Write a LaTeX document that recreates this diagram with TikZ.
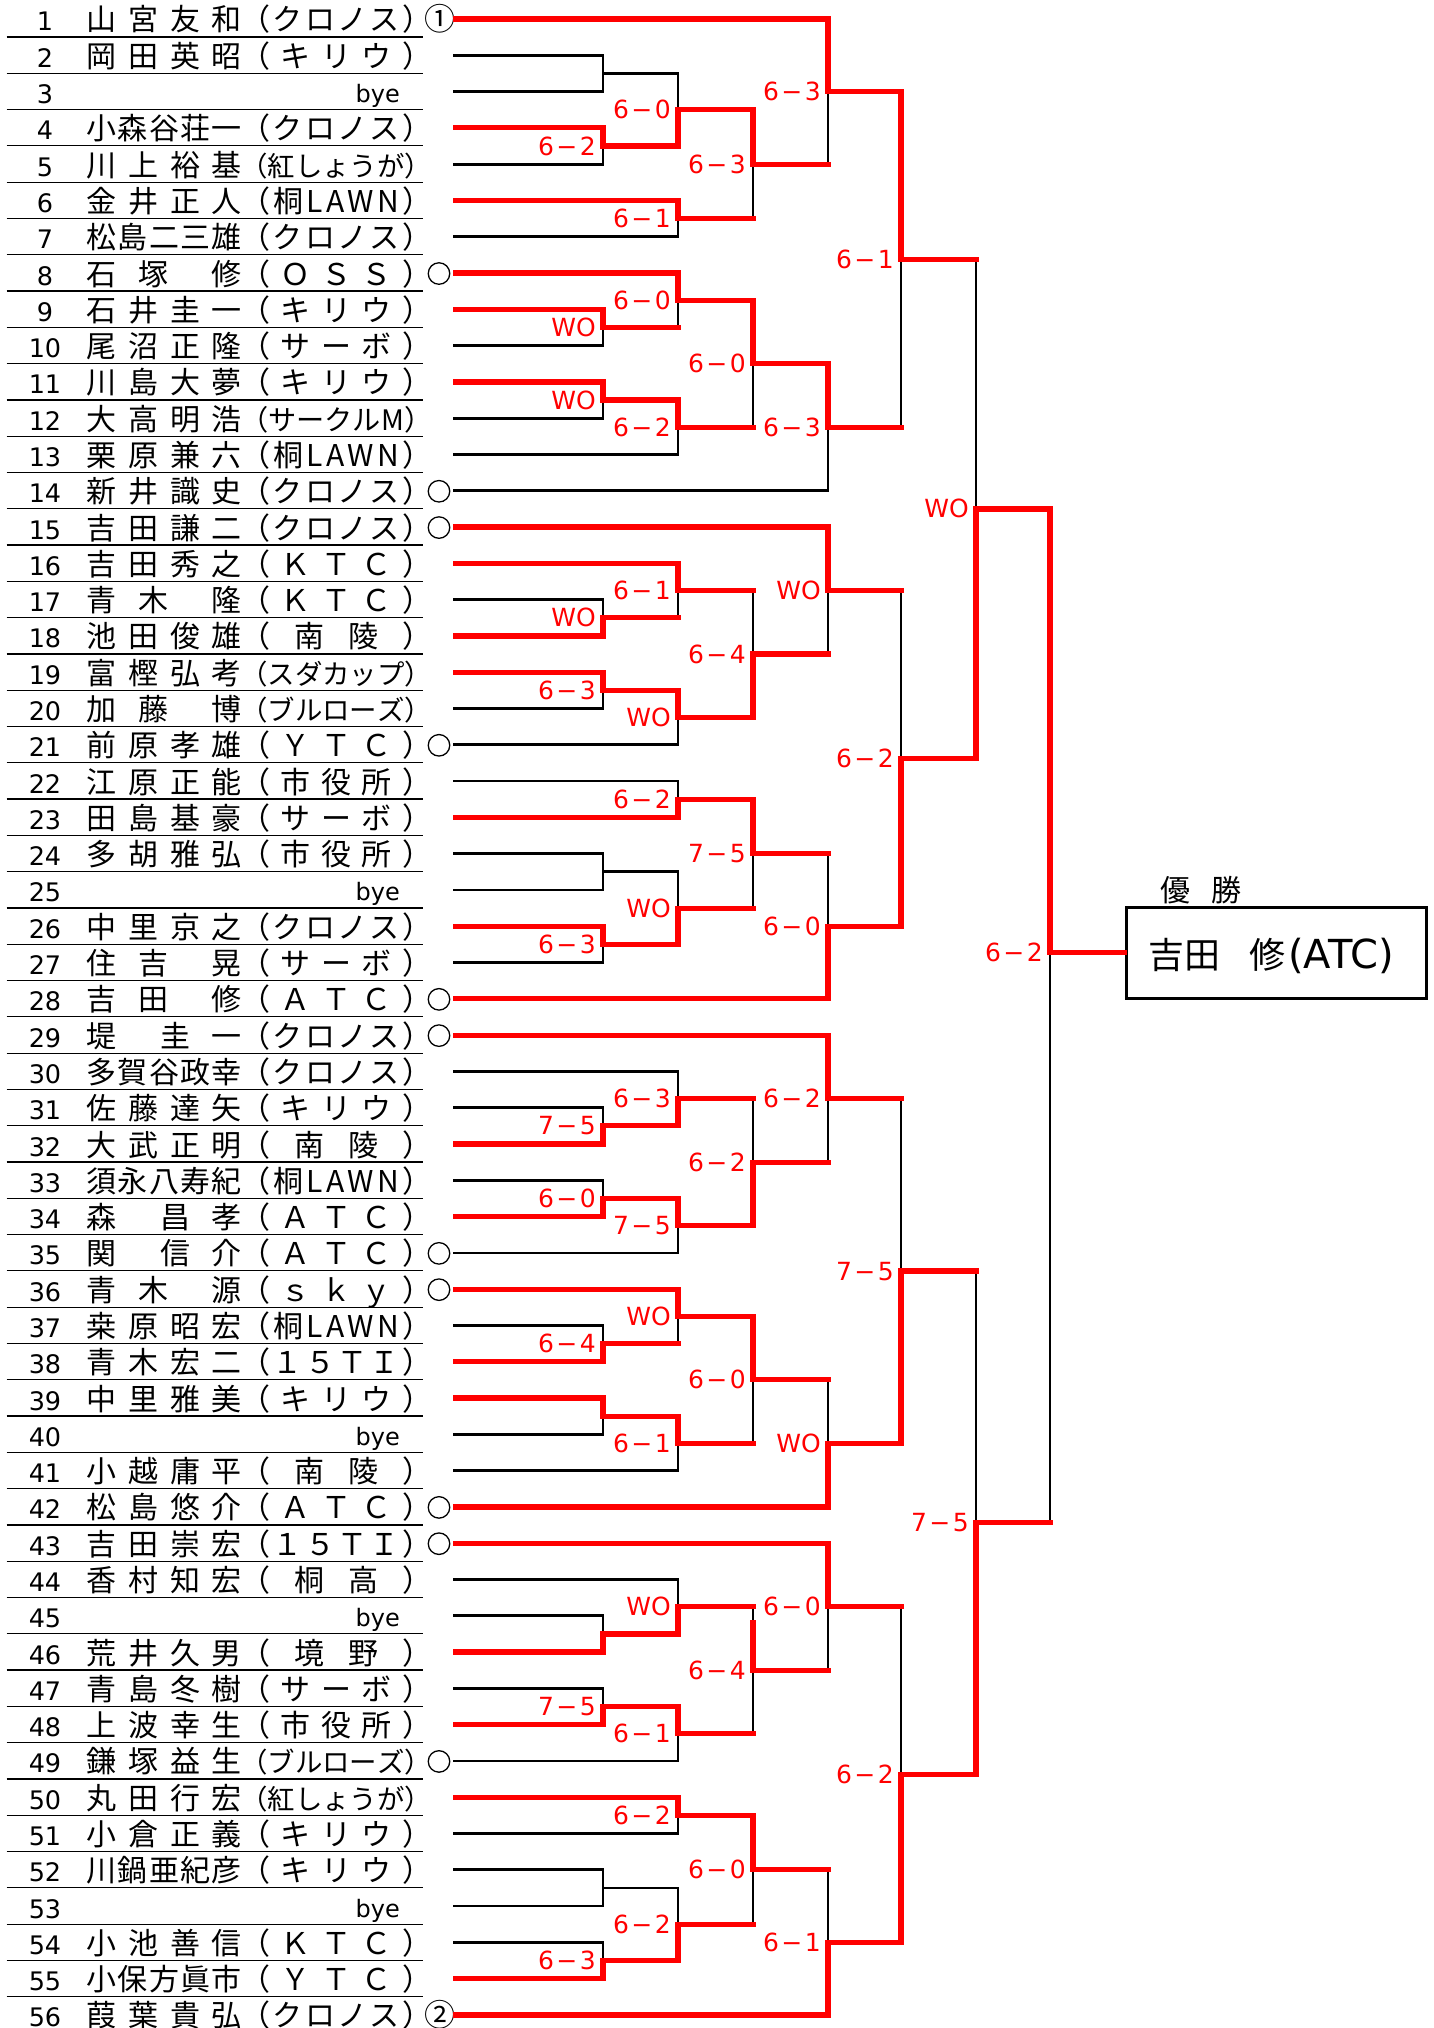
\documentclass[tikz,border=0pt]{standalone}
\usepackage{fontspec}
\usepackage{graphicx}
\setmainfont{Noto Sans CJK JP}
\newfontfamily\dv{DejaVu Sans}
\definecolor{wred}{RGB}{255,0,0}
\pgfdeclarelayer{bg}
\pgfdeclarelayer{blk}
\pgfsetlayers{bg,blk,main}
\makeatletter
\newif\ifsp@first
\newcommand\spread[1]{\sp@firsttrue\@tfor\sp@t:=#1\do{\ifsp@first\sp@firstfalse\else\hfill\fi\sp@t}}
\makeatother
\newsavebox\clubbox
\newcommand\club[1]{\sbox\clubbox{\spread{#1}}\ifdim\wd\clubbox>192pt\relax\resizebox{192pt}{!}{\usebox\clubbox}\else\makebox[192pt][s]{\spread{#1}}\fi}
\newcommand\NB[1]{\makebox[155pt][s]{\spread{#1}}}
\newcommand\NL[3]{\makebox[155pt][s]{#1\hfill #2\hfill\hfill #3}}
\newcommand\NR[3]{\makebox[155pt][s]{#1\hfill\hfill #2\hfill #3}}
\newcommand\RY[1]{(19+(#1-1)*36.29)}
\newcommand\SC[2]{#1\kern2.5pt−\kern2.5pt#2}
\def\XA{603}\def\XB{678}\def\XC{753}\def\XD{828}\def\XE{901}\def\XF{976}\def\XG{1050}
% player line
\newcommand\Pl[3]{\pgfmathsetmacro\yy{\RY{#1}}\ifx r#3\draw[rd] (455.6,\yy) -- (#2,\yy);\else\begin{pgfonlayer}{blk}\draw[bl] (454.4,\yy) -- (#2,\yy);\end{pgfonlayer}\fi}
% match
\newcommand\Mt[6]{%
 \pgfmathsetmacro\ya{\RY{#3}}\pgfmathsetmacro\yb{\RY{#4}}\pgfmathsetmacro\ym{(\ya+\yb)/2}%
 \ifcase#5\relax
  \begin{pgfonlayer}{blk}\draw[bl] (#1,\ya) -- (#1,\yb) (#1,\ym) -- (#2,\ym);\end{pgfonlayer}%
 \or
  \begin{pgfonlayer}{blk}\draw[bl] (#1,\ym) -- (#1,\yb);\end{pgfonlayer}%
  \draw[rd] (#1,\ya) -- (#1,\ym) -- (#2,\ym);%
 \or
  \begin{pgfonlayer}{blk}\draw[bl] (#1,\ya) -- (#1,\ym);\end{pgfonlayer}%
  \draw[rd] (#1,\yb) -- (#1,\ym) -- (#2,\ym);%
 \fi
 \if\relax\detokenize{#6}\relax\else\node[sc] at ({#1-7},{\ym+9}) {#6};\fi}
% rows
\newcommand\Row[3]{\pgfmathsetmacro\yy{\RY{#1}}%
 \node[num] (k#1) at (45,{\yy+12}) {#1};%
 \node[nm] (n#1) at (86.5,{\yy+12}) {#2};%
 \node[nm] (c#1) at (240,{\yy+12}) {\club{#3}};}
\newcommand\Bye[1]{\pgfmathsetmacro\yy{\RY{#1}}%
 \node[num] (k#1) at (45,{\yy+12}) {#1};%
 \node[byet] (n#1) at (400,{\yy+11}) {bye};}
\newcommand\Sd[1]{\node[seedc] (s#1) at (439,{\RY{#1}+0.5}) {};}
\begin{document}
\begin{tikzpicture}[x=1pt,y=-1pt,
 bl/.style={line width=2.7pt,black,line cap=rect},
 rd/.style={line width=5.2pt,wred,line cap=rect},
 sc/.style={text=wred,font=\dv\fontsize{25pt}{25pt}\selectfont,anchor=base east,inner sep=0pt},
 num/.style={font=\dv\fontsize{25.5pt}{25.5pt}\selectfont,anchor=base,inner sep=0pt},
 nm/.style={font=\fontsize{30pt}{30pt}\selectfont,anchor=base west,inner sep=0pt},
 byet/.style={font=\dv\fontsize{24pt}{24pt}\selectfont,anchor=base east,inner sep=0pt},
 seedc/.style={circle,draw,line width=1.3pt,minimum size=21.5pt,inner sep=0pt},
 sepline/.style={line width=1.2pt,black}]
\begin{pgfonlayer}{bg}\fill[white] (0,0) rectangle (1434,2028);\end{pgfonlayer}
\useasboundingbox (0,0) rectangle (1434,2028);
% separators
\foreach \i in {1,...,55} {\draw[sepline] (6.7,{\RY{\i}+18}) -- (423.3,{\RY{\i}+18});}
% texts
\Row{1}{\NB{山宮友和}}{（クロノス）}
\Row{2}{\NB{岡田英昭}}{（キリウ）}
\Bye{3}
\Row{4}{\NB{小森谷荘一}}{（クロノス）}
\Row{5}{\NB{川上裕基}}{（紅しょうが）}
\Row{6}{\NB{金井正人}}{（桐LAWN）}
\Row{7}{\NB{松島二三雄}}{（クロノス）}
\Row{8}{\NL{石}{塚}{修}}{（ＯＳＳ）}
\Row{9}{\NB{石井圭一}}{（キリウ）}
\Row{10}{\NB{尾沼正隆}}{（サーボ）}
\Row{11}{\NB{川島大夢}}{（キリウ）}
\Row{12}{\NB{大高明浩}}{（サークルM）}
\Row{13}{\NB{栗原兼六}}{（桐LAWN）}
\Row{14}{\NB{新井識史}}{（クロノス）}
\Row{15}{\NB{吉田謙二}}{（クロノス）}
\Row{16}{\NB{吉田秀之}}{（ＫＴＣ）}
\Row{17}{\NL{青}{木}{隆}}{（ＫＴＣ）}
\Row{18}{\NB{池田俊雄}}{（南陵）}
\Row{19}{\NB{富樫弘考}}{（スダカップ）}
\Row{20}{\NL{加}{藤}{博}}{（ブルローズ）}
\Row{21}{\NB{前原孝雄}}{（ＹＴＣ）}
\Row{22}{\NB{江原正能}}{（市役所）}
\Row{23}{\NB{田島基豪}}{（サーボ）}
\Row{24}{\NB{多胡雅弘}}{（市役所）}
\Bye{25}
\Row{26}{\NB{中里京之}}{（クロノス）}
\Row{27}{\NL{住}{吉}{晃}}{（サーボ）}
\Row{28}{\NL{吉}{田}{修}}{（ＡＴＣ）}
\Row{29}{\NR{堤}{圭}{一}}{（クロノス）}
\Row{30}{\NB{多賀谷政幸}}{（クロノス）}
\Row{31}{\NB{佐藤達矢}}{（キリウ）}
\Row{32}{\NB{大武正明}}{（南陵）}
\Row{33}{\NB{須永八寿紀}}{（桐LAWN）}
\Row{34}{\NR{森}{昌}{孝}}{（ＡＴＣ）}
\Row{35}{\NR{関}{信}{介}}{（ＡＴＣ）}
\Row{36}{\NL{青}{木}{源}}{（ｓｋｙ）}
\Row{37}{\NB{桒原昭宏}}{（桐LAWN）}
\Row{38}{\NB{青木宏二}}{（１５ＴＩ）}
\Row{39}{\NB{中里雅美}}{（キリウ）}
\Bye{40}
\Row{41}{\NB{小越庸平}}{（南陵）}
\Row{42}{\NB{松島悠介}}{（ＡＴＣ）}
\Row{43}{\NB{吉田崇宏}}{（１５ＴＩ）}
\Row{44}{\NB{香村知宏}}{（桐高）}
\Bye{45}
\Row{46}{\NB{荒井久男}}{（境野）}
\Row{47}{\NB{青島冬樹}}{（サーボ）}
\Row{48}{\NB{上波幸生}}{（市役所）}
\Row{49}{\NB{鎌塚益生}}{（ブルローズ）}
\Row{50}{\NB{丸田行宏}}{（紅しょうが）}
\Row{51}{\NB{小倉正義}}{（キリウ）}
\Row{52}{\NB{川鍋亜紀彦}}{（キリウ）}
\Bye{53}
\Row{54}{\NB{小池善信}}{（ＫＴＣ）}
\Row{55}{\NB{小保方眞市}}{（ＹＴＣ）}
\Row{56}{\NB{葭葉貴弘}}{（クロノス）}
% seeds
\node[font=\fontsize{31pt}{31pt}\selectfont,anchor=base,inner sep=0pt] (seed1) at (440,{\RY{1}+11.5}) {①};
\node[font=\fontsize{31pt}{31pt}\selectfont,anchor=base,inner sep=0pt] (seed2) at (440,{\RY{56}+11.5}) {②};
\foreach \s in {8,14,15,21,28,29,35,36,42,43,49} {\Sd{\s}}
% player lines
\Pl{1}{\XD}{r}\Pl{2}{\XA}{b}\Pl{3}{\XA}{b}\Pl{4}{\XA}{r}\Pl{5}{\XA}{b}\Pl{6}{\XB}{r}\Pl{7}{\XB}{b}
\Pl{8}{\XB}{r}\Pl{9}{\XA}{r}\Pl{10}{\XA}{b}\Pl{11}{\XA}{r}\Pl{12}{\XA}{b}\Pl{13}{\XB}{b}\Pl{14}{\XD}{b}
\Pl{15}{\XD}{r}\Pl{16}{\XB}{r}\Pl{17}{\XA}{b}\Pl{18}{\XA}{r}\Pl{19}{\XA}{r}\Pl{20}{\XA}{b}\Pl{21}{\XB}{b}
\Pl{22}{\XB}{b}\Pl{23}{\XB}{r}\Pl{24}{\XA}{b}\Pl{25}{\XA}{b}\Pl{26}{\XA}{r}\Pl{27}{\XA}{b}\Pl{28}{\XD}{r}
\Pl{29}{\XD}{r}\Pl{30}{\XB}{b}\Pl{31}{\XA}{b}\Pl{32}{\XA}{r}\Pl{33}{\XA}{b}\Pl{34}{\XA}{r}\Pl{35}{\XB}{b}
\Pl{36}{\XB}{r}\Pl{37}{\XA}{b}\Pl{38}{\XA}{r}\Pl{39}{\XA}{r}\Pl{40}{\XA}{b}\Pl{41}{\XB}{b}\Pl{42}{\XD}{r}
\Pl{43}{\XD}{r}\Pl{44}{\XB}{b}\Pl{45}{\XA}{b}\Pl{46}{\XA}{r}\Pl{47}{\XA}{b}\Pl{48}{\XA}{r}\Pl{49}{\XB}{b}
\Pl{50}{\XB}{r}\Pl{51}{\XB}{b}\Pl{52}{\XA}{b}\Pl{53}{\XA}{b}\Pl{54}{\XA}{b}\Pl{55}{\XA}{r}\Pl{56}{\XD}{r}
% round 1
\Mt\XA\XB{2}{3}0{}
\Mt\XA\XB{4}{5}1{\SC62}
\Mt\XA\XB{9}{10}1{WO}
\Mt\XA\XB{11}{12}1{WO}
\Mt\XA\XB{17}{18}2{WO}
\Mt\XA\XB{19}{20}1{\SC63}
\Mt\XA\XB{24}{25}0{}
\Mt\XA\XB{26}{27}1{\SC63}
\Mt\XA\XB{31}{32}2{\SC75}
\Mt\XA\XB{33}{34}2{\SC60}
\Mt\XA\XB{37}{38}2{\SC64}
\Mt\XA\XB{39}{40}1{}
\Mt\XA\XB{45}{46}2{}
\Mt\XA\XB{47}{48}2{\SC75}
\Mt\XA\XB{52}{53}0{}
\Mt\XA\XB{54}{55}2{\SC63}
% round 2
\Mt\XB\XC{2.5}{4.5}2{\SC60}
\Mt\XB\XC{6}{7}1{\SC61}
\Mt\XB\XC{8}{9.5}1{\SC60}
\Mt\XB\XC{11.5}{13}1{\SC62}
\Mt\XB\XC{16}{17.5}1{\SC61}
\Mt\XB\XC{19.5}{21}1{WO}
\Mt\XB\XC{22}{23}2{\SC62}
\Mt\XB\XC{24.5}{26.5}2{WO}
\Mt\XB\XC{30}{31.5}2{\SC63}
\Mt\XB\XC{33.5}{35}1{\SC75}
\Mt\XB\XC{36}{37.5}1{WO}
\Mt\XB\XC{39.5}{41}1{\SC61}
\Mt\XB\XC{44}{45.5}2{WO}
\Mt\XB\XC{47.5}{49}1{\SC61}
\Mt\XB\XC{50}{51}1{\SC62}
\Mt\XB\XC{52.5}{54.5}2{\SC62}
% round 3
\Mt\XC\XD{3.5}{6.5}1{\SC63}
\Mt\XC\XD{8.75}{12.25}1{\SC60}
\Mt\XC\XD{16.75}{20.25}2{\SC64}
\Mt\XC\XD{22.5}{25.5}1{\SC75}
\Mt\XC\XD{30.75}{34.25}2{\SC62}
\Mt\XC\XD{36.75}{40.25}1{\SC60}
\begin{pgfonlayer}{blk}\draw[bl] (\XC,{\RY{44.75}}) -- (\XC,{\RY{48.25}});\end{pgfonlayer}
\draw[rd] (\XC,1623) -- (\XC,{\RY{46.5}}) -- (\XD,{\RY{46.5}});
\node[sc] at ({\XC-7},{\RY{46.5}+9}) {\SC64};
\Mt\XC\XD{50.5}{53.5}1{\SC60}
% round 4
\Mt\XD\XE{1}{5}1{\SC63}
\Mt\XD\XE{10.5}{14}1{\SC63}
\Mt\XD\XE{15}{18.5}1{WO}
\Mt\XD\XE{24}{28}2{\SC60}
\Mt\XD\XE{29}{32.5}1{\SC62}
\Mt\XD\XE{38.5}{42}2{WO}
\Mt\XD\XE{43}{46.5}1{\SC60}
\Mt\XD\XE{52}{56}2{\SC61}
% round 5
\Mt\XE\XF{3}{12.25}1{\SC61}
\Mt\XE\XF{16.75}{26}2{\SC62}
\Mt\XE\XF{30.75}{40.25}2{\SC75}
\Mt\XE\XF{44.75}{54}2{\SC62}
% semifinals
\Mt\XF\XG{7.625}{21.375}2{WO}
\Mt\XF\XG{35.5}{49.375}2{\SC75}
% final
\node[draw,line width=3pt,minimum width=300pt,minimum height=91pt,inner sep=0pt] (champ) at (1276,952.5) {};
\begin{pgfonlayer}{blk}\draw[bl] (\XG,952.5) -- (\XG,{\RY{42.4375}});\end{pgfonlayer}
\draw[rd] (\XG,{\RY{14.5}}) -- (\XG,952.5) -- (champ.west);
\node[sc] at (1043,961.5) {\SC62};
\node[anchor=base west,inner sep=0pt,font=\fontsize{36pt}{36pt}\selectfont] (ctext) at (1148,968) {吉田\hspace{29pt}修\kern3pt{\dv\fontsize{40pt}{40pt}\selectfont(ATC)}};
\node[anchor=base west,inner sep=0pt,font=\fontsize{30pt}{30pt}\selectfont] (yusho) at (1160,901.5) {優\hspace{21pt}勝};
\end{tikzpicture}
\end{document}
